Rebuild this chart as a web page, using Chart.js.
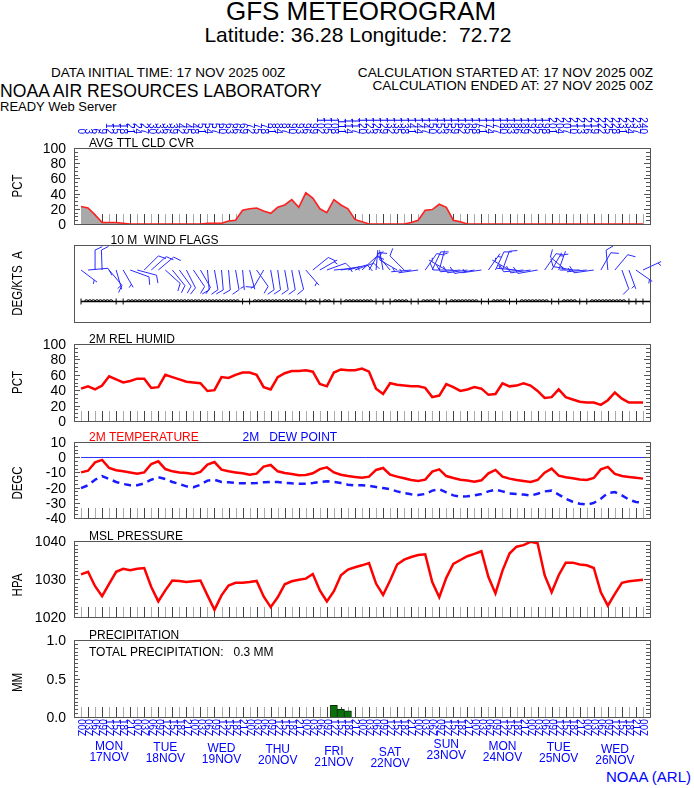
<!DOCTYPE html>
<html>
<head>
<meta charset="utf-8">
<script src="https://cdn.jsdelivr.net/npm/chart.js@4.4.1/dist/chart.umd.min.js"></script>
<style>
  body { margin: 0; background: #fff; width: 694px; height: 788px; position: relative; overflow: hidden;
         font-family: "Liberation Sans", Arial, Helvetica, sans-serif; }
  .t { position: absolute; white-space: pre; line-height: 1; color: #000; }
  .yl { position: absolute; white-space: pre; line-height: 1; color: #000; font-size: 14px; text-align: right; width: 40px; z-index: 5; }
  canvas { position: absolute; left: 0; top: 0; }
</style>
</head>
<body>
<div class="t" style="left:361px;top:-2px;font-size:26px;transform:translateX(-50%)">GFS METEOROGRAM</div>
<div class="t" style="left:358px;top:24px;font-size:21px;transform:translateX(-50%)">Latitude: 36.28 Longitude:  72.72</div>
<div class="t" style="left:51px;top:66px;font-size:13.5px">DATA INITIAL TIME: 17 NOV 2025 00Z</div>
<div class="t" style="right:41px;top:66px;font-size:13.6px">CALCULATION STARTED AT: 17 NOV 2025 00Z</div>
<div class="t" style="right:41px;top:79px;font-size:13.6px">CALCULATION ENDED AT: 27 NOV 2025 00Z</div>
<div class="t" style="left:0;top:83px;font-size:17.6px">NOAA AIR RESOURCES LABORATORY</div>
<div class="t" style="left:0;top:100px;font-size:13px">READY Web Server</div>
<div class="t" style="right:3px;top:769px;font-size:15px;color:#0000ff">NOAA (ARL)</div>

<canvas id="cld"></canvas>
<canvas id="wnd"></canvas>
<canvas id="rh"></canvas>
<canvas id="tmp"></canvas>
<canvas id="prs"></canvas>
<canvas id="pcp"></canvas>

<script>
// forecast hours, every 3 h for 10 days
const hours = [0,3,6,9,12,15,18,21,24,27,30,33,36,39,42,45,48,51,54,57,60,63,66,69,72,75,78,81,84,87,
  90,93,96,99,102,105,108,111,114,117,120,123,126,129,132,135,138,141,144,147,150,153,156,159,162,165,168,171,174,177,
  180,183,186,189,192,195,198,201,204,207,210,213,216,219,222,225,228,231,234,237,240];

const dayNames = ['MON','TUE','WED','THU','FRI','SAT','SUN','MON','TUE','WED'];
const dayDates = ['17NOV','18NOV','19NOV','20NOV','21NOV','22NOV','23NOV','24NOV','25NOV','26NOV'];

// y tick labels per panel
const pctTicks = [0, 20, 40, 60, 80, 100];
const tempTicks = [-40, -30, -20, -10, 0, 10];
const presTicks = [1020, 1030, 1040];
const mmTicks = [0, 0.5, 1];

const cloud = [23,21,12,2,2,2,1,0,0,0, 0,0,0,0,0,0,0,0,1,1, 1,4,5,18,20,21,17,14,22,25,
  32,22,41,34,20,15,32,25,20,6, 3,0,0,0,0,0,0,2,5,18, 19,26,22,5,3,0,0,0,0,0,
  0,0,0,0,0,0,0,0,0,0, 0,0,0,0,0,0,0,0,0,0, 0];

const relHum = [42,45,41,46,58,54,50,52,55,55, 43,44,60,57,54,51,50,49,39,40, 57,56,60,63,63,60,44,41,57,62,
  65,65,66,64,48,45,63,67,66,66, 68,64,42,35,49,47,46,45,45,43, 31,33,48,44,39,41,44,42,34,35,
  49,45,46,49,46,39,30,31,41,31, 28,25,24,24,21,27,37,29,24,24, 24];

const temp2m = [-10,-8.9,-3.4,-1.8,-7.1,-8.6,-9.3,-10,-10.8,-10, -4.5,-2.7,-7.8,-9.3,-10,-10.4,-11,-9.7,-4.9,-3.2,
  -8.2,-9.3,-10,-10.6,-11.5,-10.8,-6.2,-5.1,-9.3,-10.4, -11,-11.9,-11.7,-10.6,-7.8,-6.7,-10,-11.5,-12.4,-13,
  -13.5,-12.8,-8.4,-7.1,-11.5,-12.8,-13.9,-15,-15.7,-14.8, -9.5,-8,-12.4,-13.7,-14.8,-15.4,-16.1,-15.2,-10.6,-8.4,
  -12.8,-14.1,-15,-15.7,-16.3,-15,-10.2,-7.5,-12.1,-13.2, -13.9,-14.6,-15,-13.7,-8,-6.4,-11,-12.4,-13,-13.5, -14.1];

const dewPt = [-20.3,-18.5,-14.8,-12.4,-14.3,-16.3,-17.6,-18.5,-18.5,-17.2, -14.8,-13.2,-14.3,-16.3,-17.6,-19.2,-19.8,-18.1,-15.4,-14.8,
  -16.3,-16.5,-17,-17.2,-17.2,-17,-16.5,-16.3,-16.3,-16.8, -17.2,-17.4,-17.4,-17,-16.3,-15.9,-16.3,-17,-18.1,-18.5,
  -18.5,-18.9,-19.6,-20.3,-21.1,-22.5,-23.6,-24.4,-24.9,-24.2, -22,-21.1,-23.1,-25.1,-26,-25.7,-25.1,-24.2,-22.5,-21.4,
  -22.5,-23.8,-24.2,-24.6,-25.3,-24,-22.5,-22,-24.6,-27.3, -29.3,-30.6,-31.2,-30.1,-27.3,-23.6,-22.9,-25.1,-27.9,-29.5, -29.9];

const mslp = [1031.2,1031.9,1028.1,1025.5,1028.7,1031.9,1032.7,1032.3,1032.7,1032.9,
  1027.9,1024.1,1027,1029.6,1029.5,1029.2,1029.4,1029.6,1025.7,1021.9,
  1025.7,1028.3,1029,1029,1029.2,1029.5,1025.4,1022.6,1025.2,1028.6,
  1029.4,1029.8,1030.1,1031.3,1027,1024.1,1026.8,1031,1032.5,1033.1,
  1033.6,1034.2,1028.8,1025.8,1029.6,1033.8,1035.1,1035.8,1036.3,1036.5,
  1029.2,1025.2,1030.3,1034,1035,1036,1036.6,1037.3,1030.5,1026.2,
  1032.2,1036.7,1038.5,1038.9,1039.8,1039.4,1031,1026.5,1031,1034.3,
  1034.3,1033.8,1033.6,1032.9,1026.5,1023,1026.1,1029,1029.4,1029.6, 1029.8];

const precip = [0,0,0,0,0,0,0,0,0,0, 0,0,0,0,0,0,0,0,0,0, 0,0,0,0,0,0,0,0,0,0,
  0,0,0,0,0,0,0.15,0.10,0.08,0, 0,0,0,0,0,0,0,0,0,0, 0,0,0,0,0,0,0,0,0,0,
  0,0,0,0,0,0,0,0,0,0, 0,0,0,0,0,0,0,0,0,0, 0];
const totalPrecip = '0.3';

// 10 m wind: direction (deg, from) and speed (kt)
const windDir = [127,85,0,358,140,164,150,110,105,45, 48,50,132,141,144,153,146,150,175,170,
  175,175,170,175,165,145,210,170,172,170, 170,166,139,51,60,70,85,80,75,70,
  47,30,5,350,320,300,315,265,262,35, 25,15,300,270,265,262,260,262,35,25,
  20,300,275,265,262,260,35,30,20,310, 280,270,265,262,30,355,40,160,160,125, 65];
const windSpd = [5,10,10,10,10,5,5,10,10,10, 10,10,10,10,10,10,10,10,10,10,
  10,10,10,5,5,10,10,10,10,10, 10,10,5,10,5,10,5,5,10,10,
  10,10,5,5,5,10,10,5,5,10, 10,5,5,10,10,10,10,5,5,10,
  10,5,5,10,10,10,10,5,5,10, 10,5,5,10,10,10,10,10,5,5, 5];

const FONT = '"Liberation Sans", Arial, Helvetica, sans-serif';
const W = 694, H = 788, RIGHT = 650, LEFT = 74;

function txt(ctx, s, x, yc, size, color, align, sx) {
  ctx.save();
  ctx.font = size + 'px ' + FONT;
  ctx.fillStyle = color || '#000';
  ctx.textAlign = align || 'left';
  ctx.textBaseline = 'alphabetic';
  ctx.translate(x, yc + size * 0.36);
  if (sx) ctx.scale(sx, 1);
  ctx.fillText(s, 0, 0);
  ctx.restore();
}

function barb(ctx, x0, y0, dir, spd) {
  const L = 20, B = 8, S = 3.5, t = 65 * Math.PI / 180;
  const a = dir * Math.PI / 180;
  const ux = Math.sin(a), uy = -Math.cos(a);
  const ex = x0 + ux * L, ey = y0 + uy * L;
  const bx = ux * Math.cos(t) - uy * Math.sin(t), by = ux * Math.sin(t) + uy * Math.cos(t);
  ctx.beginPath();
  ctx.moveTo(x0, y0); ctx.lineTo(ex, ey);
  let r = Math.round(spd / 5) * 5, k = 0;
  while (r >= 10) {
    const px = ex - ux * k * S, py = ey - uy * k * S;
    ctx.moveTo(px, py); ctx.lineTo(px + bx * B, py + by * B);
    r -= 10; k++;
  }
  if (r >= 5) {
    if (k === 0) k = 1;
    const px = ex - ux * k * S, py = ey - uy * k * S;
    ctx.moveTo(px, py); ctx.lineTo(px + bx * B / 2, py + by * B / 2);
  }
  ctx.stroke();
}

const meteo = {
  id: 'meteo',
  beforeDatasetsDraw(chart, args, o) {
    const { ctx, chartArea: a, scales: { x, y } } = chart;
    ctx.save();
    if (o.ticks) {
      hours.forEach((h, i) => {
        const px = Math.round(x.getPixelForValue(h)) + 0.5;
        ctx.strokeStyle = i % 2 ? '#444' : '#aaa';
        ctx.lineWidth = 1;
        ctx.beginPath(); ctx.moveTo(px, a.bottom); ctx.lineTo(px, a.bottom - 10); ctx.stroke();
      });
    }
    if (o.zero) {
      const py = Math.round(y.getPixelForValue(0)) + 0.5;
      ctx.strokeStyle = '#3030ff'; ctx.lineWidth = 1;
      ctx.beginPath(); ctx.moveTo(a.left + 7, py); ctx.lineTo(a.right, py); ctx.stroke();
    }
    ctx.restore();
  },
  afterDraw(chart, args, o) {
    const { ctx, chartArea: a, scales: { x, y } } = chart;
    ctx.save();
    // frame
    ctx.strokeStyle = '#555'; ctx.lineWidth = 1;
    ctx.strokeRect(a.left + 0.5, a.top + 0.5, a.right - a.left, a.bottom - a.top);
    // inner minor ticks on both sides
    if (o.minor) {
      const n = Math.round((y.max - y.min) / o.minor);
      for (let k = 0; k <= n; k++) {
        const v = y.min + k * o.minor;
        const py = Math.round(y.getPixelForValue(v)) + 0.5;
        const len = k % o.every === 0 ? 6 : 4;
        ctx.beginPath();
        ctx.moveTo(a.left, py); ctx.lineTo(a.left + len, py);
        ctx.moveTo(a.right, py); ctx.lineTo(a.right - len, py);
        ctx.stroke();
      }
    }
    // panel titles
    (o.titles || []).forEach(t => txt(ctx, t.text, t.x, a.top - 5.5, 12, t.color));
    // y title
    if (o.yTitle) {
      ctx.save();
      ctx.translate(17, (a.top + a.bottom) / 2 + (o.yOff || 0));
      ctx.rotate(-Math.PI / 2);
      txt(ctx, o.yTitle, 0, 0, 14, '#000', 'center', 0.82);
      ctx.restore();
    }
    // forecast hour labels along the top
    if (o.topLabels) {
      ctx.font = '10px ' + FONT; ctx.fillStyle = '#0000ff';
      ctx.textAlign = 'right'; ctx.textBaseline = 'middle';
      hours.forEach(h => {
        ctx.save();
        ctx.translate(x.getPixelForValue(h), 134);
        ctx.rotate(Math.PI / 2);
        ctx.fillText(String(h), 0, 0);
        ctx.restore();
      });
    }
    // valid time labels + days along the bottom
    if (o.bottomLabels) {
      ctx.font = '10px ' + FONT; ctx.fillStyle = '#0000ff';
      ctx.textAlign = 'left'; ctx.textBaseline = 'middle';
      hours.forEach(h => {
        const z = String(h % 24).padStart(2, '0') + 'Z';
        ctx.save();
        ctx.translate(x.getPixelForValue(h), 719);
        ctx.rotate(Math.PI / 2);
        ctx.fillText(z, 0, 0);
        ctx.restore();
      });
      const dy = [0, 0.5, 2, 3, 4.5, 6, -2, 0, 0.5, 2.5];
      dayNames.forEach((d, i) => {
        const cx = x.getPixelForValue(12 + 24 * i);
        txt(ctx, d, cx, 746 + dy[i], 12, '#0000ff', 'center');
        txt(ctx, dayDates[i], cx, 757 + dy[i], 12, '#0000ff', 'center');
      });
    }
    if (o.total) txt(ctx, o.total, 89, a.top + 11.7, 12, '#000');
    // wind flags
    if (o.wind) {
      ctx.strokeStyle = '#2a2aff'; ctx.lineWidth = 1;
      const by = y.getPixelForValue(0.675);
      hours.forEach((h, i) => barb(ctx, x.getPixelForValue(h), by, windDir[i], windSpd[i]));
      const ly = Math.round(y.getPixelForValue(0.27)) + 0.5;
      ctx.strokeStyle = '#000'; ctx.lineWidth = 1.3;
      ctx.beginPath(); ctx.moveTo(x.getPixelForValue(0), ly); ctx.lineTo(a.right, ly); ctx.stroke();
      ctx.lineWidth = 1;
      hours.forEach((h, i) => {
        const px = x.getPixelForValue(h);
        ctx.beginPath();
        if (windSpd[i] >= 10) {
          ctx.moveTo(px - 3.5, ly); ctx.arc(px - 1.7, ly, 1.8, Math.PI, 0);
          ctx.arc(px + 1.9, ly, 1.8, Math.PI, 0);
        } else { ctx.moveTo(px, ly - 3); ctx.lineTo(px, ly + 3); }
        ctx.stroke();
      });
    }
    ctx.restore();
  }
};

function xy(arr) { return hours.map((h, i) => ({ x: h, y: arr[i] })); }

// y tick labels placed as text at the chart's own scale positions
function yLabels(chart, ticks, fmt) {
  const y = chart.scales.y, a = chart.chartArea;
  ticks.forEach(v => {
    const d = document.createElement('div');
    d.className = 'yl';
    d.textContent = fmt ? fmt(v) : String(v);
    d.style.left = (a.left - 8 - 40) + 'px';
    d.style.top = (y.getPixelForValue(v) - 7) + 'px';
    document.body.appendChild(d);
  });
}

function panel(id, top, bottom, type, datasets, yMin, yMax, o, ticks, fmt) {
  const cv = document.getElementById(id);
  cv.width = W; cv.height = H;
  const ch = new Chart(cv, {
    type,
    data: { datasets },
    options: {
      responsive: false,
      animation: false,
      events: [],
      layout: { padding: { left: 0, right: W - RIGHT, top, bottom: H - bottom } },
      plugins: { legend: { display: false }, tooltip: { enabled: false }, meteo: o },
      elements: { point: { radius: 0 }, line: { tension: 0 } },
      scales: {
        x: { type: 'linear', min: -3, max: 243, display: false, offset: false },
        y: {
          min: yMin, max: yMax, bounds: 'data',
          afterFit: s => { s.width = LEFT; },
          ticks: { display: false },
          grid: { display: false, drawTicks: false },
          border: { display: false }
        }
      }
    },
    plugins: [meteo]
  });
  if (ticks) yLabels(ch, ticks, fmt);
  return ch;
}

panel('cld', 148, 224, 'line', [{
  data: xy(cloud), borderColor: '#ff2020', borderWidth: 1.6, fill: 'origin', backgroundColor: '#a9a9a9'
}], 0, 100,
{ ticks: true, minor: 5, every: 4, yTitle: 'PCT', titles: [{ text: 'AVG TTL CLD CVR', x: 89 }], topLabels: true },
pctTicks);

panel('wnd', 245, 322, 'line', [], 0, 1,
{ ticks: false, yTitle: 'DEG/KTS  A', titles: [{ text: '10 M  WIND FLAGS', x: 110.5 }], wind: true });

panel('rh', 344, 421, 'line', [{
  data: xy(relHum), borderColor: '#ff0000', borderWidth: 2.5
}], 0, 100,
{ ticks: true, minor: 5, every: 4, yTitle: 'PCT', titles: [{ text: '2M REL HUMID', x: 89 }] },
pctTicks);

panel('tmp', 442, 518, 'line', [
  { data: xy(temp2m), borderColor: '#ff0000', borderWidth: 2.5 },
  { data: xy(dewPt), borderColor: '#1a1aff', borderWidth: 2.5, borderDash: [7, 5] }
], -40, 10,
{ ticks: true, minor: 2.5, every: 4, zero: true, yTitle: 'DEGC', yOff: 3,
  titles: [{ text: '2M TEMPERATURE', x: 89, color: '#ff0000' }, { text: '2M   DEW POINT', x: 242.5, color: '#0000ff' }] },
tempTicks);

panel('prs', 541, 617, 'line', [{
  data: xy(mslp), borderColor: '#ff0000', borderWidth: 2.5
}], 1020, 1040,
{ ticks: true, minor: 1, every: 10, yTitle: 'HPA', yOff: 6, titles: [{ text: 'MSL PRESSURE', x: 89 }] },
presTicks);

panel('pcp', 640, 717, 'bar', [{
  data: xy(precip), backgroundColor: '#0a700a', borderColor: '#003000', borderWidth: 1,
  barPercentage: 1, categoryPercentage: 1
}], 0, 1,
{ ticks: true, minor: 0.05, every: 10, yTitle: 'MM', yOff: 4,
  titles: [{ text: 'PRECIPITATION', x: 89 }],
  total: 'TOTAL PRECIPITATION:   ' + totalPrecip + ' MM', bottomLabels: true },
mmTicks, v => v.toFixed(1));
</script>
</body>
</html>
